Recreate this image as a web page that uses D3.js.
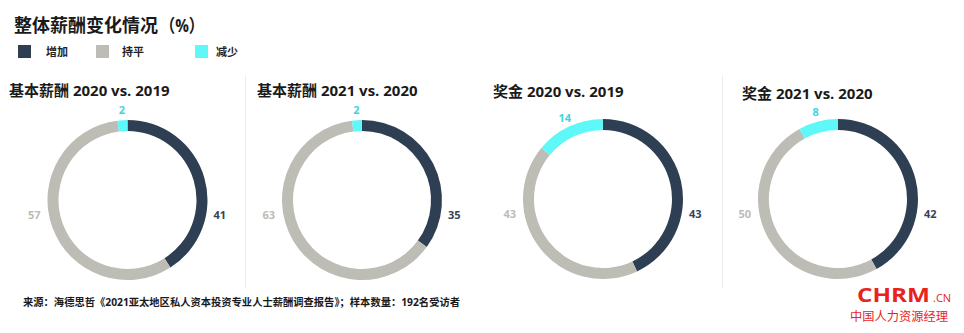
<!DOCTYPE html>
<html><head><meta charset="utf-8">
<script src="https://cdn.jsdelivr.net/npm/d3@7"></script>
<style>
html,body{margin:0;padding:0;background:#fff;}
svg{display:block;}
text{font-family:"Open Sans","Noto Sans CJK SC",sans-serif;}
</style></head>
<body>
<svg id="chart" width="964" height="333"></svg>
<script>
const mainTitle = "整体薪酬变化情况";
const mainTitleUnit = "（%）";
const seriesNames = ["增加", "持平", "减少"];
const seriesColors = ["#2f3f53", "#bdbcb5", "#5ff8f8"];
const labelColors = ["#34455a", "#bdbcb5", "#3fd3dc"];
const panelTitles = ["基本薪酬 2020 vs. 2019", "基本薪酬 2021 vs. 2020", "奖金 2020 vs. 2019", "奖金 2021 vs. 2020"];
const increaseValues = [41, 35, 43, 42];
const flatValues = [57, 63, 43, 50];
const decreaseValues = [2, 2, 14, 8];
const footnote = "来源：海德思哲《2021亚太地区私人资本投资专业人士薪酬调查报告》；样本数量：192名受访者";

const svg = d3.select("#chart");

// Main title
svg.append("text").attr("x", 14).attr("y", 32)
  .attr("font-size", 18).attr("font-weight", 700).attr("fill", "#1a1a1a")
  .text(mainTitle);
svg.append("text").attr("x", 160).attr("y", 32)
  .attr("font-size", 18).attr("font-weight", 700).attr("fill", "#1a1a1a")
  .attr("textLength", 44).attr("lengthAdjust", "spacingAndGlyphs")
  .text(mainTitleUnit);

// Legend
const legendX = [18, 96, 195];
const legendTextX = [46, 122, 216];
seriesNames.forEach((n, i) => {
  svg.append("rect").attr("x", legendX[i]).attr("y", 45).attr("width", 13).attr("height", 13)
    .attr("fill", seriesColors[i]);
  svg.append("text").attr("x", legendTextX[i]).attr("y", 56)
    .attr("font-size", 11).attr("font-weight", 700).attr("fill", "#222")
    .text(n);
});

// Dividers
[245.5, 722.5].forEach(x => {
  svg.append("line").attr("x1", x).attr("x2", x).attr("y1", 76).attr("y2", 288)
    .attr("stroke", "#ececec").attr("stroke-width", 1);
});

// Panels
const centersX = [127.5, 362, 603, 838];
const centersY = [200, 200, 199, 199];
const titleX = [9, 257, 493, 742];
const titleY = [96, 96, 97, 99];
const R = 80, thickness = 11;

const pie = d3.pie().sort(null).value(d => d.v).startAngle(0).endAngle(2 * Math.PI);
const arc = d3.arc().innerRadius(R - thickness).outerRadius(R);

panelTitles.forEach((t, p) => {
  svg.append("text").attr("x", titleX[p]).attr("y", titleY[p])
    .attr("font-size", 15).attr("font-weight", 700).attr("fill", "#1a1a1a")
    .text(t);

  const data = [
    {v: increaseValues[p], k: 0},
    {v: flatValues[p], k: 1},
    {v: decreaseValues[p], k: 2}
  ];
  const arcs = pie(data);
  const g = svg.append("g").attr("transform", `translate(${centersX[p]},${centersY[p]})`);
  g.selectAll("path").data(arcs).join("path")
    .attr("d", arc).attr("fill", d => seriesColors[d.data.k]);

  arcs.forEach(a => {
    const k = a.data.k;
    let x, y, anchor;
    if (k === 0) { x = R + 6; y = 19; anchor = "start"; }
    else if (k === 1) { x = -R - 7; y = 19; anchor = "end"; }
    else {
      const mid = (a.startAngle + a.endAngle) / 2;
      const r = R + 10;
      x = r * Math.sin(mid); y = -r * Math.cos(mid) + 4; anchor = "middle";
    }
    g.append("text").attr("x", x).attr("y", y).attr("text-anchor", anchor)
      .attr("font-size", 11).attr("font-weight", 700).attr("fill", labelColors[k])
      .text(a.data.v);
  });
});

// Footnote
svg.append("text").attr("x", 23).attr("y", 306)
  .attr("font-size", 10.5).attr("font-weight", 700).attr("fill", "#1a1a1a")
  .attr("textLength", 437).attr("lengthAdjust", "spacingAndGlyphs")
  .text(footnote);

// Logo
svg.append("text").attr("x", 857).attr("y", 302)
  .attr("font-family", "Liberation Sans, Arial, sans-serif")
  .attr("font-size", 20).attr("font-weight", 700).attr("fill", "#e8231c")
  .attr("textLength", 73).attr("lengthAdjust", "spacingAndGlyphs")
  .text("CHRM");
svg.append("text").attr("x", 933).attr("y", 302)
  .attr("font-family", "Liberation Sans, Arial, sans-serif")
  .attr("font-size", 11).attr("fill", "#e8231c")
  .text(".CN");
svg.append("text").attr("x", 850).attr("y", 321)
  .attr("font-size", 12).attr("fill", "#e8231c")
  .attr("textLength", 98).attr("lengthAdjust", "spacingAndGlyphs")
  .text("中国人力资源经理");
</script>
</body></html>
